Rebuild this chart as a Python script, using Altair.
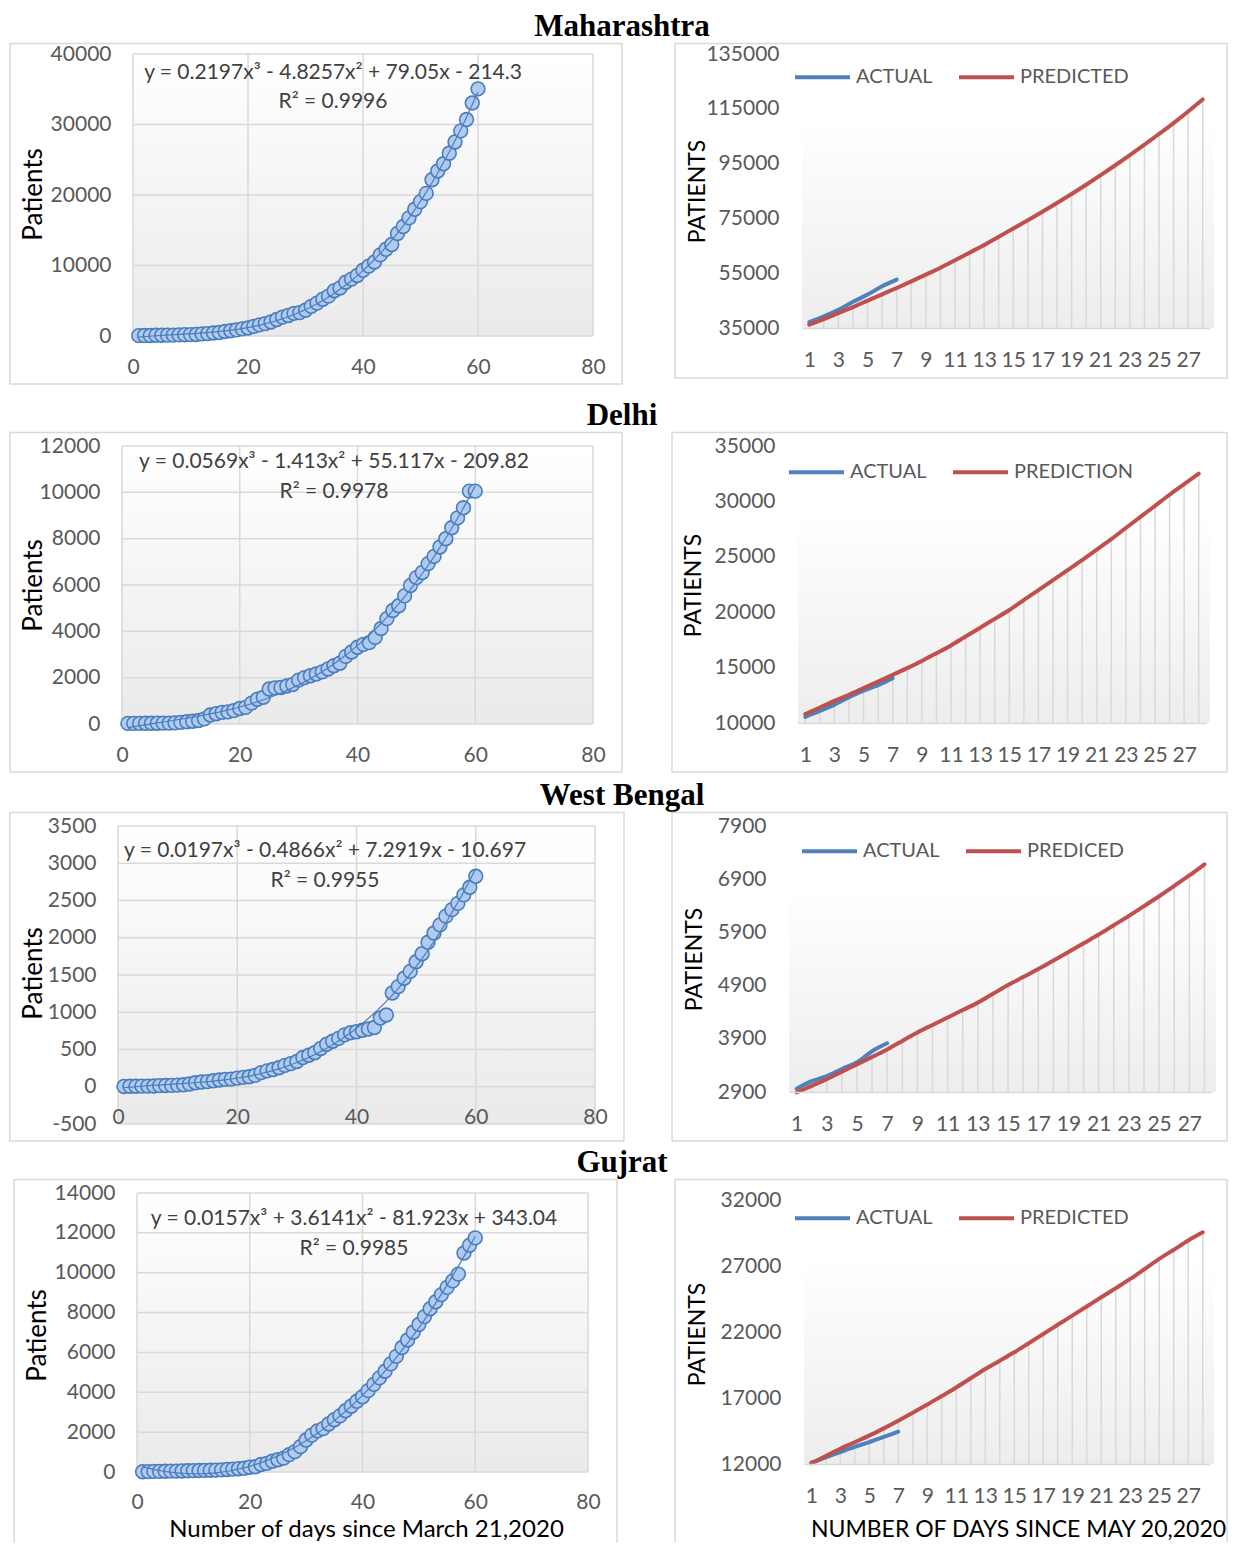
import altair as alt
import pandas as pd

# ---------------- data ----------------
states = ["Maharashtra", "Delhi", "West Bengal", "Gujrat"]
days = list(range(1, 61))

mah_cases = [52, 64, 74, 97, 107, 122, 130, 153, 186, 203, 220, 302, 335, 423, 490, 635, 748, 868,
             1018, 1135, 1364, 1574, 1761, 1982, 2334, 2684, 2916, 3205, 3323, 3651, 4200, 4669,
             5218, 5652, 6427, 6817, 7628, 8068, 8590, 9318, 9915, 10498, 11506, 12296, 12974,
             14541, 15525, 16758, 17974, 19063, 20228, 22171, 23401, 24427, 25922, 27524, 29100,
             30706, 33053, 35058]
delhi_cases = [26, 27, 29, 30, 31, 35, 36, 39, 49, 72, 97, 120, 152, 219, 386, 445, 503, 525, 576,
               669, 720, 903, 1069, 1154, 1510, 1561, 1578, 1640, 1707, 1893, 2003, 2081, 2156, 2248,
               2376, 2514, 2625, 2918, 3108, 3314, 3439, 3515, 3738, 4122, 4549, 4898, 5104, 5532,
               5980, 6318, 6542, 6923, 7233, 7639, 7998, 8470, 8895, 9333, 10054, 10054]
wb_cases = [4, 7, 7, 9, 9, 10, 15, 17, 18, 22, 26, 37, 53, 63, 69, 80, 91, 99, 103, 116, 126, 134,
            152, 190, 213, 231, 255, 287, 310, 339, 392, 423, 456, 514, 571, 611, 649, 697, 725, 739,
            758, 775, 795, 922, 963, 1259, 1344, 1456, 1548, 1678, 1786, 1939, 2063, 2173, 2290,
            2377, 2461, 2576, 2677, 2825]
guj_cases = [13, 18, 29, 33, 38, 43, 45, 53, 63, 69, 74, 82, 87, 95, 105, 128, 145, 165, 186, 241,
             262, 378, 432, 538, 617, 695, 871, 1021, 1272, 1604, 1851, 2066, 2178, 2407, 2624, 2815,
             3071, 3301, 3548, 3774, 4082, 4395, 4721, 5054, 5428, 5804, 6245, 6625, 7013, 7402,
             7797, 8194, 8541, 8903, 9267, 9592, 9932, 10989, 11380, 11746]
left_cases = [mah_cases, delhi_cases, wb_cases, guj_cases]

equations = [
    "y = 0.2197x³ - 4.8257x² + 79.05x - 214.3",
    "y = 0.0569x³ - 1.413x² + 55.117x - 209.82",
    "y = 0.0197x³ - 0.4866x² + 7.2919x - 10.697",
    "y = 0.0157x³ + 3.6141x² - 81.923x + 343.04",
]
r2_labels = ["R² = 0.9996", "R² = 0.9978", "R² = 0.9955", "R² = 0.9985"]
left_x_ticks = [0, 20, 40, 60, 80]
left_y_ticks = [
    [0, 10000, 20000, 30000, 40000],
    [0, 2000, 4000, 6000, 8000, 10000, 12000],
    [-500, 0, 500, 1000, 1500, 2000, 2500, 3000, 3500],
    [0, 2000, 4000, 6000, 8000, 10000, 12000, 14000],
]
left_y_title = "Patients"
left_x_title = "Number of days since March 21,2020"

forecast_days = list(range(1, 29))
actual_days = list(range(1, 8))
mah_pred = [36200, 38250, 40400, 42650, 45000, 47300, 49600, 52000, 54500, 57000, 59700, 62500,
            65300, 68300, 71300, 74300, 77400, 80600, 83900, 87300, 90800, 94400, 98100, 101900,
            105800, 109800, 114000, 118400]
mah_actual = [37136, 39297, 41642, 44582, 47190, 50231, 52667]
delhi_pred = [10800, 11400, 12000, 12550, 13150, 13750, 14350, 14950, 15600, 16300, 17000, 17800,
              18600, 19400, 20200, 21100, 22000, 22900, 23800, 24700, 25650, 26600, 27600, 28600,
              29600, 30600, 31550, 32500]
delhi_actual = [10554, 11088, 11659, 12319, 12910, 13418, 14053]
wb_pred = [2890, 3015, 3140, 3280, 3420, 3560, 3700, 3860, 4020, 4160, 4300, 4440, 4580, 4745, 4910,
           5060, 5210, 5370, 5530, 5695, 5860, 6035, 6210, 6395, 6580, 6775, 6970, 7180]
wb_actual = [2961, 3103, 3197, 3332, 3459, 3667, 3816]
guj_pred = [12050, 12600, 13150, 13650, 14150, 14700, 15280, 15880, 16500, 17150, 17800, 18500,
            19200, 19830, 20460, 21150, 21850, 22550, 23240, 23930, 24630, 25320, 26020, 26780,
            27540, 28230, 28930, 29550]
guj_actual = [12100, 12500, 12900, 13300, 13650, 14050, 14450]
right_pred = [mah_pred, delhi_pred, wb_pred, guj_pred]
right_actual = [mah_actual, delhi_actual, wb_actual, guj_actual]
right_y_ticks = [
    [35000, 55000, 75000, 95000, 115000, 135000],
    [10000, 15000, 20000, 25000, 30000, 35000],
    [2900, 3900, 4900, 5900, 6900, 7900],
    [12000, 17000, 22000, 27000, 32000],
]
right_x_ticks = list(range(1, 28, 2))
series_names = [("ACTUAL", "PREDICTED"), ("ACTUAL", "PREDICTION"),
                ("ACTUAL", "PREDICED"), ("ACTUAL", "PREDICTED")]
right_y_title = "PATIENTS"
right_x_title = "NUMBER OF DAYS SINCE MAY 20,2020"

# ---------------- style / layout ----------------
FONT = "Lato"
GRID = "#d9d9d9"
LABEL = "#595959"
BLUE = "#4F81BD"
RED = "#C0504D"
PAGE_W = 1220
SPACER_W = 1
BOTTOM_CLIP = 8   # the figure runs off the bottom edge of the page

# rows: title top, title bottom (== cell top), cell bottom, title baseline (local)
ROWS = [(8, 42, 399, 28), (399, 430, 778, 25), (778, 809, 1144, 25), (1144, 1175, 1546, 25)]
SPLIT = 648
RIGHT_EDGE = 8 + PAGE_W
LEFT = [
    dict(px=133, py=53, w=460, h=282, box=(10, 622, 42.5, 383), ytitle=(33, 193),
         eq=(333, 72), r2=(333, 101), lpad=31),
    dict(px=122, py=444, w=471, h=278, box=(10, 622, 430.5, 770), ytitle=(33, 583),
         eq=(334, 460), r2=(334, 490), lpad=31),
    dict(px=118, py=823, w=477, h=298, box=(9.75, 624, 809.5, 1138), ytitle=(33, 970),
         eq=(325, 848), r2=(325, 878), lpad=31),
    dict(px=137, py=1189, w=451, h=279, box=(14, 617, 1175.5, None), ytitle=(37, 1331),
         eq=(354, 1215), r2=(354, 1245), lpad=30, xtitle=(366, 1532.5)),
]
# ref_py / ref_h: where the top tick and the baseline sit in the reference
RIGHT = [
    dict(px=802, ref_py=53, ref_h=274, w=408, box=(675, RIGHT_EDGE - 1, 42.5, 377),
         ytitle=(697, 190), legend=(793, 74)),
    dict(px=798, ref_py=444, ref_h=277, w=408, box=(672, RIGHT_EDGE - 1, 430.5, 770),
         ytitle=(693, 583), legend=(787, 468)),
    dict(px=789, ref_py=823, ref_h=266, w=423, box=(672, RIGHT_EDGE - 1, 809.5, 1138),
         ytitle=(694, 956), legend=(800, 846)),
    dict(px=804, ref_py=1196, ref_h=264, w=406, box=(675, RIGHT_EDGE - 1, 1175.5, None),
         ytitle=(697, 1330), legend=(793, 1212), xtitle=(1018, 1532.5)),
]

one = pd.DataFrame({"k": [0]})
plain_label = "'' + datum.value"


def frame_layers(px, py, cell, box):
    cx0, cx1, cy0, cy1 = cell
    bx0, bx1, by0, by1 = box
    layers = [
        alt.Chart(one).mark_rect(opacity=0).encode(
            x=alt.value(cx0 - px), x2=alt.value(cx1 - px),
            y=alt.value(cy0 - py), y2=alt.value(cy1 - py)),
    ]
    if by1 is not None:
        layers.append(alt.Chart(one).mark_rect(fillOpacity=0, stroke=GRID, strokeWidth=1.5).encode(
            x=alt.value(bx0 - px), x2=alt.value(bx1 - px),
            y=alt.value(by0 - py), y2=alt.value(by1 - py)))
    else:
        bottom = cy1 - py
        rule = alt.Chart(one).mark_rule(color=GRID, strokeWidth=1.5)
        layers += [
            rule.encode(x=alt.value(bx0 - px), x2=alt.value(bx1 - px), y=alt.value(by0 - py)),
            rule.encode(x=alt.value(bx0 - px), y=alt.value(by0 - py), y2=alt.value(bottom)),
            rule.encode(x=alt.value(bx1 - px), y=alt.value(by0 - py), y2=alt.value(bottom)),
        ]
    return layers


def gradient(top_frac, bottom_color):
    return {"gradient": "linear", "x1": 0, "y1": 0, "x2": 0, "y2": 1,
            "stops": [{"offset": 0, "color": "#ffffff"},
                      {"offset": top_frac, "color": "#ffffff"},
                      {"offset": 1, "color": bottom_color}]}


def left_panel(i):
    g = LEFT[i]
    t0, ct, cb, _ = ROWS[i]
    px, py, W, H = g["px"], g["py"], g["w"], g["h"]
    yt = left_y_ticks[i]
    df = pd.DataFrame({"x": days, "y": left_cases[i]})

    xaxis = dict(values=left_x_ticks, grid=False, domain=False, ticks=False, tickSize=0,
                 labelFont=FONT, labelFontSize=21, labelColor=LABEL, labelPadding=g["lpad"],
                 labelBaseline="middle", labelFlush=False, labelOverlap=False, zindex=1)
    if yt[0] < 0:
        xaxis["offset"] = -H * (0 - yt[0]) / (yt[-1] - yt[0])
    if "xtitle" in g:
        xaxis.update(title=left_x_title, titleX=g["xtitle"][0] - px,
                     titleY=g["xtitle"][1] - (py + H), titleFont=FONT, titleFontSize=24,
                     titleFontWeight="normal", titleColor="#000000", titleAlign="center",
                     titleBaseline="alphabetic")
    else:
        xaxis["title"] = None

    X = alt.X("x:Q", scale=alt.Scale(domain=[0, 80], nice=False, zero=False),
              axis=alt.Axis(**xaxis))
    Y = alt.Y("y:Q", scale=alt.Scale(domain=[yt[0], yt[-1]], nice=False, zero=False),
              axis=alt.Axis(values=yt, labelExpr=plain_label, grid=False, domain=False,
                            ticks=False, tickSize=0, labelFont=FONT, labelFontSize=21,
                            labelColor=LABEL, labelPadding=22, labelOverlap=False,
                            title=left_y_title,
                            titleX=g["ytitle"][0] - px, titleY=g["ytitle"][1] - py,
                            titleAngle=270, titleAlign="center", titleBaseline="middle",
                            titleFont=FONT, titleFontSize=26, titleFontWeight="normal",
                            titleColor="#000000"))

    layers = frame_layers(px, py, (8 + SPACER_W, SPLIT, ct, cb), g["box"])
    layers.append(alt.Chart(one).mark_rect(fill=gradient(0.0, "#eaeaea")).encode(
        x=alt.value(0), x2=alt.value(W), y=alt.value(0), y2=alt.value(H)))
    vgrid = alt.Chart(pd.DataFrame({"x": left_x_ticks})).mark_rule(
        color=GRID, strokeWidth=1.5).encode(x=X, y=alt.value(0), y2=alt.value(H))
    hgrid = alt.Chart(pd.DataFrame({"y": yt})).mark_rule(
        color=GRID, strokeWidth=1.5).encode(y=Y, x=alt.value(0), x2=alt.value(W))
    points = alt.Chart(df).mark_point(shape="circle", fill="#b0caf0", fillOpacity=1,
                                      stroke="#4a7ebb", strokeWidth=1.6, size=190,
                                      opacity=1).encode(x=X, y=Y)
    trend = alt.Chart(df).transform_regression("x", "y", method="poly", order=3).mark_line(
        color="#4a7ebb", strokeWidth=1.2).encode(x=X, y=Y)
    txt = dict(font=FONT, fontSize=21, color="#404040", align="center", baseline="middle")
    eq = alt.Chart(one).mark_text(**txt).encode(
        x=alt.value(g["eq"][0] - px), y=alt.value(g["eq"][1] - py), text=alt.value(equations[i]))
    r2 = alt.Chart(one).mark_text(**txt).encode(
        x=alt.value(g["r2"][0] - px), y=alt.value(g["r2"][1] - py), text=alt.value(r2_labels[i]))
    layers += [vgrid, hgrid, points, trend, eq, r2]
    return alt.layer(*layers).properties(width=W, height=H)


def right_panel(i):
    g = RIGHT[i]
    t0, ct, cb, _ = ROWS[i]
    py = LEFT[i]["py"]              # plot tops of a row line up
    px, W = g["px"], g["w"]
    yt = right_y_ticks[i]
    per_px = (yt[-1] - yt[0]) / g["ref_h"]
    H = g["ref_py"] + g["ref_h"] - py
    top_val = yt[-1] + (g["ref_py"] - py) * per_px
    a_name, p_name = series_names[i]
    df_pred = pd.DataFrame({"day": forecast_days, "value": right_pred[i], "series": p_name})
    df_act = pd.DataFrame({"day": actual_days, "value": right_actual[i], "series": a_name})
    df_lines = pd.concat([df_act, df_pred], ignore_index=True)

    xaxis = dict(values=right_x_ticks, grid=False, domain=True, domainColor=GRID, domainWidth=1.5,
                 ticks=False, tickSize=0, labelFont=FONT, labelFontSize=21, labelColor=LABEL,
                 labelPadding=32, labelBaseline="middle", labelFlush=False, labelOverlap=False,
                 zindex=1)
    if "xtitle" in g:
        xaxis.update(title=right_x_title, titleX=g["xtitle"][0] - px,
                     titleY=g["xtitle"][1] - (py + H), titleFont=FONT, titleFontSize=23,
                     titleFontWeight="normal", titleColor="#000000", titleAlign="center",
                     titleBaseline="alphabetic")
    else:
        xaxis["title"] = None

    X = alt.X("day:Q", scale=alt.Scale(domain=[0.5, 28.5], nice=False, zero=False),
              axis=alt.Axis(**xaxis))
    Y = alt.Y("value:Q", scale=alt.Scale(domain=[yt[0], top_val], nice=False, zero=False),
              axis=alt.Axis(values=yt, labelExpr=plain_label, grid=False, domain=False,
                            ticks=False, tickSize=0, labelFont=FONT, labelFontSize=21,
                            labelColor=LABEL, labelPadding=23, labelOverlap=False,
                            title=right_y_title,
                            titleX=g["ytitle"][0] - px, titleY=g["ytitle"][1] - py,
                            titleAngle=270, titleAlign="center", titleBaseline="middle",
                            titleFont=FONT, titleFontSize=23, titleFontWeight="normal",
                            titleColor="#000000"))

    layers = frame_layers(px, py, (SPLIT, RIGHT_EDGE, ct, cb), g["box"])
    shade_top = (g["ref_py"] - py) + 0.23 * g["ref_h"]
    layers.append(alt.Chart(one).mark_rect(fill=gradient(0.0, "#ededed")).encode(
        x=alt.value(0), x2=alt.value(W + 4), y=alt.value(shade_top), y2=alt.value(H)))
    drops = alt.Chart(df_pred).mark_rule(color=GRID, strokeWidth=1.5).encode(
        x=X, y=Y, y2=alt.value(H))
    lx, ly = g["legend"]
    lines = alt.Chart(df_lines).mark_line(strokeWidth=4, strokeCap="round", strokeJoin="round",
                                          interpolate="monotone").encode(
        x=X, y=Y,
        color=alt.Color("series:N", scale=alt.Scale(domain=[a_name, p_name], range=[BLUE, RED]),
                        legend=alt.Legend(title=None, orient="none", legendX=lx - px,
                                          legendY=ly - py - 27.5, direction="horizontal",
                                          symbolType="stroke", symbolSize=3025,
                                          symbolStrokeWidth=4, labelFont=FONT, labelFontSize=20,
                                          labelColor=LABEL, labelOffset=4, columnPadding=18,
                                          padding=0)))
    layers += [drops, lines]
    return alt.layer(*layers).properties(width=W, height=H)


def spacer():
    return alt.Chart(one).mark_rect(opacity=0).encode(
        x=alt.value(0), x2=alt.value(SPACER_W), y=alt.value(0), y2=alt.value(1)
    ).properties(width=SPACER_W, height=1)


def title_row(i):
    t0, t1, cb, base = ROWS[i]
    return alt.Chart(one).mark_text(font="Liberation Serif", fontSize=31, fontWeight="bold",
                                    color="#000000", align="center",
                                    baseline="alphabetic").encode(
        x=alt.value(622 - 8), y=alt.value(base), text=alt.value(states[i])
    ).properties(width=PAGE_W, height=t1 - t0)


rows = []
for i in range(4):
    rows.append(title_row(i))
    rows.append(
        alt.hconcat(spacer(), left_panel(i), right_panel(i)).properties(spacing=0, bounds="full")
        .resolve_scale(color="independent").resolve_legend(color="independent")
    )

chart = (
    alt.vconcat(*rows)
    .properties(spacing=0, bounds="full",
                padding={"left": 0, "top": 0, "right": 0, "bottom": -BOTTOM_CLIP})
    .resolve_scale(color="independent").resolve_legend(color="independent")
    .configure_view(strokeWidth=0)
)

chart.save("out.html", embed_options={"renderer": "svg", "actions": False})
